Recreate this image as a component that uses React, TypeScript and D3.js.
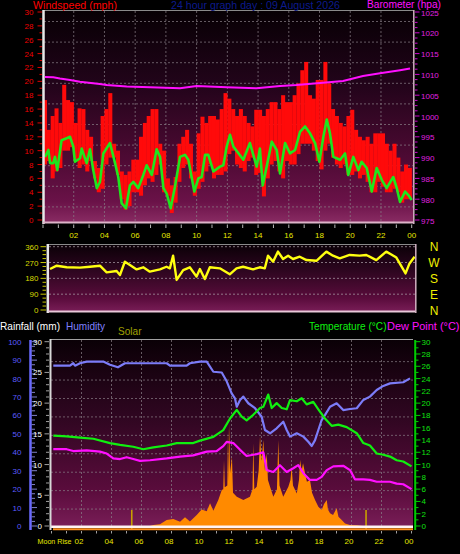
import React from 'react';
import * as d3 from 'd3';

// ---------------- data ----------------
const hourLabels = ['02', '04', '06', '08', '10', '12', '14', '16', '18', '20', '22', '00'];
const hourValues = [2, 4, 6, 8, 10, 12, 14, 16, 18, 20, 22, 24];
const windTicks = [0, 2, 4, 6, 8, 10, 12, 14, 16, 18, 20, 22, 24, 26, 28, 30];
const baroTicks = [975, 980, 985, 990, 995, 1000, 1005, 1010, 1015, 1020, 1025];
const dirTicks = [0, 90, 180, 270, 360];
const compassLabels = ['N', 'W', 'S', 'E', 'N'];
const compassDeg = [360, 270, 180, 90, 0];
const humTicks = [0, 10, 20, 30, 40, 50, 60, 70, 80, 90, 100];
const rainTicks = [0, 5, 10, 15, 20, 25, 30];
const tempTicks = [0, 2, 4, 6, 8, 10, 12, 14, 16, 18, 20, 22, 24, 26, 28, 30];

// wind speed range bars (mph), one per quarter hour from 00:00
const gustStep = 0.25;
const gustHigh = [
  17.3, 13, 15, 16.1, 14, 19.5, 17.3, 17, 14, 16.1, 16, 13, 12, 8.5, 7.5, 15,
  16, 18.3, 11, 10, 7, 6.5, 7, 8.7, 8.7, 12, 14, 15, 16, 16, 11, 10,
  6, 5, 6.2, 11, 12, 13, 11, 7, 12.5, 14.9, 14, 15, 15, 14.5, 16, 18.3,
  17.5, 16, 15, 16, 15, 14, 13.5, 15.9, 15.9, 15, 16, 17, 17, 16, 18, 17,
  17, 18, 19.7, 21.6, 22.8, 18, 17.5, 20.2, 20.2, 22.8, 19.7, 16, 15, 14, 13.5, 15,
  15.9, 13, 12, 11.5, 12, 11, 12.5, 12.5, 12.5, 11, 10, 11, 9, 7, 8, 7.5, 7,
];
const gustLow = [
  8, 8.5, 6, 7, 7.5, 10, 10, 10.5, 8.5, 7.5, 8, 7, 8.5, 6, 4, 4.5,
  8, 9, 9, 6.5, 3, 1.5, 2, 4, 4, 3.5, 5, 6, 5.5, 6.5, 8, 4,
  3.5, 1, 2.5, 5.5, 7.5, 8, 6, 3.5, 4.5, 5.5, 7, 8, 6, 6.5, 6.5, 7,
  9.5, 10, 8, 7.5, 7, 8.5, 9, 6.5, 6.8, 3.4, 6, 8, 8.5, 7, 6, 8.5,
  8, 8, 9.5, 11, 11, 11, 10, 8.5, 7.3, 10, 11, 9, 8, 7.5, 8, 6.5,
  6.5, 7, 6, 6.5, 5.5, 4, 4, 5.5, 4.8, 4, 4, 4.5, 4, 2.5, 3, 3, 2.7,
];

// average wind speed (mph)
const windAvgT = [0.13, 0.35, 0.46, 0.67, 0.78, 0.93, 1.21, 1.54, 1.76, 1.97, 2.08, 2.41, 2.52, 2.84, 3.06, 3.27, 3.5, 3.71, 3.93, 4.36, 4.69, 4.9, 5.12, 5.4, 5.66, 5.88, 6.2, 6.53, 6.75, 7.08, 7.4, 7.62, 7.84, 8.05, 8.31, 8.59, 8.92, 9.24, 9.46, 9.85, 10.11, 10.33, 10.55, 10.76, 11.09, 11.52, 11.74, 11.96, 12.17, 12.39, 13.04, 13.47, 13.91, 14.12, 14.3, 14.56, 14.89, 15.21, 15.43, 15.76, 16.08, 16.41, 16.73, 17.06, 17.38, 17.71, 17.99, 18.25, 18.47, 18.68, 18.9, 19.34, 19.66, 19.87, 20.2, 20.53, 20.74, 21.07, 21.4, 21.72, 22.05, 22.37, 22.8, 23.03, 23.24, 23.57, 23.78, 24.0];
const windAvgV = [9.1, 10.1, 8.2, 8.2, 9.1, 7.2, 11.5, 11.8, 12.0, 10.6, 8.4, 8.9, 10.3, 8.2, 10.2, 7.2, 4.6, 5.5, 9.6, 11.1, 8.2, 6.2, 2.4, 1.7, 5.0, 5.5, 4.6, 6.5, 7.9, 6.5, 10.2, 9.1, 4.6, 3.8, 1.7, 4.8, 9.1, 9.4, 8.7, 4.1, 6.0, 6.2, 9.4, 9.4, 7.0, 7.7, 7.9, 10.6, 12.3, 10.6, 8.7, 11.1, 7.7, 10.3, 5.0, 7.7, 11.3, 10.1, 6.7, 11.1, 9.6, 10.1, 12.7, 13.5, 12.5, 11.1, 8.4, 12.0, 14.5, 12.5, 9.1, 8.7, 9.6, 6.5, 9.1, 7.2, 8.4, 7.5, 4.1, 7.5, 5.8, 4.6, 6.2, 4.6, 2.6, 4.1, 3.6, 2.9];

// barometer (hPa)
const baroT = [0.13, 0.67, 1.1, 1.76, 2.4, 3.7, 4.15, 5.45, 6.97, 8.92, 10.0, 11.96, 13.9, 15.43, 16.5, 18.23, 19.53, 20.83, 21.94, 23.24, 23.89];
const baroV = [1009.4, 1009.3, 1009.0, 1008.65, 1008.25, 1007.7, 1007.45, 1007.1, 1006.9, 1006.7, 1007.2, 1006.9, 1006.65, 1007.2, 1007.45, 1008.0, 1008.4, 1009.6, 1010.25, 1011.0, 1011.4];

// wind direction (degrees)
const dirT = [0.13, 0.57, 1.22, 2.09, 2.74, 3.39, 3.83, 4.48, 4.70, 5.02, 5.35, 5.79, 6.22, 6.65, 7.31, 7.74, 7.96, 8.17, 8.40, 8.83, 9.26, 9.70, 9.92, 10.24, 10.57, 11.22, 11.87, 12.31, 12.74, 13.39, 13.83, 14.16, 14.37, 14.70, 15.02, 15.35, 15.68, 16.00, 16.44, 16.88, 17.53, 18.18, 18.61, 19.05, 19.70, 20.35, 20.79, 21.44, 22.09, 22.42, 22.75, 23.35, 23.61, 23.94];
const dirV = [233, 252, 243, 241, 246, 252, 214, 222, 199, 275, 256, 231, 243, 218, 231, 246, 237, 309, 171, 227, 243, 190, 233, 176, 243, 237, 203, 237, 246, 231, 243, 237, 309, 275, 332, 290, 309, 290, 303, 284, 280, 332, 309, 294, 313, 309, 313, 284, 332, 316, 298, 208, 265, 303];

// humidity (%)
const humT = [0.22, 1.33, 1.55, 1.67, 2.0, 2.45, 3.55, 4.0, 4.53, 5.0, 7.78, 8.0, 9.11, 9.33, 10.0, 10.45, 10.89, 11.45, 11.78, 12.11, 12.33, 12.45, 12.67, 12.89, 13.22, 13.67, 14.11, 14.33, 14.67, 15.11, 15.55, 15.78, 16.0, 16.45, 16.89, 17.22, 17.45, 17.67, 17.89, 18.11, 18.33, 18.67, 19.11, 19.55, 20.0, 20.45, 20.89, 21.33, 21.78, 22.22, 22.67, 23.55, 24.0];
const humV = [87, 87, 88.3, 87, 88.3, 89.2, 89.2, 87.5, 86.1, 88.3, 88.3, 87, 87, 88.3, 89.2, 89.2, 83.7, 83.3, 78.5, 72, 69.3, 64.7, 68.4, 70.2, 66.6, 63.9, 59.3, 52.1, 50.3, 53, 56.6, 52.1, 48.5, 50.3, 48.5, 45.7, 43.4, 46.6, 52.1, 57.5, 60.2, 64.7, 66.6, 62.9, 63.5, 63.9, 68.4, 70.2, 73.8, 76, 77.4, 78, 80.1];

// temperature (°C)
const tempT = [0.22, 1.11, 2.0, 2.89, 4.0, 4.67, 5.55, 6.22, 6.89, 7.78, 8.45, 9.55, 10.0, 10.89, 11.55, 12.0, 12.45, 12.78, 13.11, 13.55, 14.0, 14.22, 14.55, 14.78, 15.11, 15.45, 15.78, 16.0, 16.45, 16.78, 17.11, 17.55, 17.89, 18.33, 18.78, 19.22, 19.78, 20.45, 20.89, 21.33, 21.78, 22.22, 22.67, 23.11, 23.55, 24.1];
const tempV = [14.7, 14.6, 14.4, 14.2, 13.5, 13.2, 12.9, 12.5, 12.8, 13.1, 13.5, 13.5, 13.9, 14.5, 15.6, 17.5, 18.9, 17.8, 17.2, 18.1, 19.2, 19.4, 21.4, 19.2, 20, 19.2, 19.0, 20.5, 20.3, 20.8, 19.8, 20.2, 19.0, 17.5, 16.3, 16.5, 16.1, 15.1, 13.5, 13.1, 11.8, 11.6, 11.3, 10.7, 10.5, 9.7];

// dew point (°C)
const dewT = [0.22, 1.11, 1.55, 2.45, 3.33, 3.78, 4.22, 4.67, 5.11, 5.55, 6.0, 6.67, 7.78, 8.67, 9.55, 10.45, 11.11, 11.55, 11.78, 12.22, 12.67, 13.11, 13.78, 14.22, 14.45, 14.89, 15.33, 15.78, 16.22, 16.55, 16.89, 17.33, 17.78, 18.11, 18.45, 18.89, 19.55, 20.0, 20.33, 20.89, 21.33, 21.78, 22.67, 23.11, 23.55, 24.1];
const dewV = [12.5, 12.5, 12.2, 12.3, 12.1, 11.8, 11.0, 10.9, 11.2, 10.9, 10.6, 10.7, 11.0, 11.3, 11.5, 12.1, 12.2, 13.0, 13.7, 13.5, 12.4, 11.4, 11.7, 12.0, 9.1, 8.8, 9.9, 8.8, 9.4, 9.9, 8.6, 7.5, 7.5, 8.0, 9.1, 9.7, 9.8, 9.1, 7.6, 7.6, 7.5, 7.2, 7.2, 6.9, 6.8, 6.0];

// solar (plotted on the 0-100 scale)
const solarT = [6.67, 6.89, 7.33, 7.78, 8.22, 8.67, 9.0, 9.33, 9.78, 10.11, 10.45, 10.67, 10.89, 11.22, 11.45, 11.55, 11.6, 11.65, 11.82, 11.87, 11.91, 11.95, 12.0, 12.13, 12.2, 12.45, 12.89, 13.33, 13.5, 13.55, 13.62, 13.78, 13.91, 14.0, 14.11, 14.22, 14.33, 14.45, 14.53, 14.67, 14.89, 15.13, 15.22, 15.3, 15.55, 15.89, 16.03, 16.11, 16.2, 16.45, 16.6, 16.67, 16.78, 16.87, 17.0, 17.13, 17.33, 17.47, 17.67, 17.89, 18.11, 18.27, 18.45, 18.53, 18.67, 18.87, 19.11, 19.23, 19.45, 19.67, 20.0, 20.45, 20.87];
const solarV = [0, 0.5, 1, 3.3, 3.8, 2.3, 4.7, 2.5, 6.0, 9.0, 8, 12.3, 8.3, 14.1, 19.5, 20, 35.8, 21, 22, 53.9, 24, 55.7, 28.6, 37.6, 18, 15.9, 14.1, 15.9, 20, 44.9, 20, 21.3, 30, 48.5, 35, 46.6, 30, 39.4, 25, 21.3, 15.9, 20, 46.6, 22, 15.9, 21.3, 25, 32.2, 22, 17.7, 25, 35.8, 30, 34, 28.6, 24, 25, 18, 14.1, 10.5, 8.7, 12, 14.1, 9, 6.9, 6, 9.6, 5, 3.3, 1.4, 0.5, 0.4, 0];

// thin markers (hours)
const markerHours = [5.45, 21.07];

// ---------------- drawing ----------------
const F = "'Liberation Sans', Arial, Helvetica, sans-serif";

export default function App() {
  const x1 = d3.scaleLinear().domain([0, 24]).range([43, 411.7]);
  const yWind = d3.scaleLinear().domain([0, 30]).range([220, 12]);
  const yBaro = d3.scaleLinear().domain([975, 1025]).range([220, 12]);
  const x2 = d3.scaleLinear().domain([0, 24]).range([48, 415.5]);
  const yDir = d3.scaleLinear().domain([0, 360]).range([310, 246.7]);
  const x3 = d3.scaleLinear().domain([0, 24]).range([50, 410]);
  const yPct = d3.scaleLinear().domain([0, 100]).range([526, 341.7]);
  const yRain = d3.scaleLinear().domain([0, 30]).range([526, 341.7]);
  const yTemp = d3.scaleLinear().domain([0, 30]).range([526, 341.7]);

  const zip = (a: number[], b: number[]) => a.map((t, i) => [t, b[i]] as [number, number]);

  const windLine = d3.line<[number, number]>().x(d => x1(d[0])).y(d => yWind(d[1]))(zip(windAvgT, windAvgV)) || '';
  const baroLine = d3.line<[number, number]>().x(d => x1(d[0])).y(d => yBaro(d[1]))(zip(baroT, baroV)) || '';
  const dirLine = d3.line<[number, number]>().x(d => x2(d[0])).y(d => yDir(d[1]))(zip(dirT, dirV)) || '';
  const humLine = d3.line<[number, number]>().x(d => x3(d[0])).y(d => yPct(d[1]))(zip(humT, humV)) || '';
  const tempLine = d3.line<[number, number]>().x(d => x3(d[0])).y(d => yTemp(d[1]))(zip(tempT, tempV)) || '';
  const dewLine = d3.line<[number, number]>().x(d => x3(d[0])).y(d => yTemp(d[1]))(zip(dewT, dewV)) || '';
  const solarArea = d3.area<[number, number]>().x(d => x3(d[0])).y0(yPct(0)).y1(d => yPct(d[1]))(zip(solarT, solarV)) || '';

  const barW = x1(gustStep) - x1(0);
  const hourly = d3.range(0, 25);
  const grid1H = d3.range(10).map(k => 21.5 + 20.6 * k);

  return (
    <svg width={460} height={554} style={{ position: 'absolute', left: 0, top: 0, display: 'block' }}>
      <defs>
        <linearGradient id="bgA" x1="0" y1="0" x2="0" y2="1">
          <stop offset="0" stopColor="#070004" />
          <stop offset="0.35" stopColor="#22041a" />
          <stop offset="0.7" stopColor="#4e0a34" />
          <stop offset="0.9" stopColor="#6a1248" />
          <stop offset="1" stopColor="#8a2c64" />
        </linearGradient>
        <linearGradient id="bgB" x1="0" y1="0" x2="0" y2="1">
          <stop offset="0" stopColor="#0a0006" />
          <stop offset="0.4" stopColor="#2e0620" />
          <stop offset="0.8" stopColor="#5a0c3c" />
          <stop offset="1" stopColor="#7a1e58" />
        </linearGradient>
        <clipPath id="c1"><rect x={44} y={11} width={369} height={211} /></clipPath>
        <clipPath id="c2"><rect x={49} y={245} width={366} height={66} /></clipPath>
        <clipPath id="c3"><rect x={51} y={340} width={362} height={190} /></clipPath>
      </defs>
      <rect x={0} y={0} width={460} height={554} fill="#000" />

      {/* ============ PANEL 1: wind + barometer ============ */}
      <rect x={43} y={10} width={371} height={213} fill="url(#bgA)" />
      {grid1H.map((y, i) => (
        <line key={'g1h' + i} x1={44} x2={413} y1={y} y2={y} stroke="#8a8088" strokeDasharray="2 2" opacity={0.7} />
      ))}
      {hourValues.slice(0, 11).map(h => (
        <line key={'g1v' + h} x1={x1(h)} x2={x1(h)} y1={11} y2={222} stroke="#8a8088" strokeDasharray="2 2" opacity={0.7} />
      ))}
      <g clipPath="url(#c1)">
        {gustHigh.slice(0, 96).map((v, i) => (
          <rect key={'gb' + i} x={x1(i * gustStep)} width={barW + 0.2} y={yWind(v)} height={yWind(gustLow[i]) - yWind(v)} fill="#ff0a0a" />
        ))}
        <path d={windLine} fill="none" stroke="#1ee61e" strokeWidth={2.6} strokeLinejoin="round" />
        <path d={baroLine} fill="none" stroke="#ff10ff" strokeWidth={2} />
      </g>
      <line x1={43} x2={414} y1={10.5} y2={10.5} stroke="#8a8a8a" />
      <line x1={43.5} x2={43.5} y1={10} y2={224} stroke="#e8e8e8" strokeWidth={2.5} />
      <line x1={43} x2={414} y1={222.5} y2={222.5} stroke="#dcb4c8" strokeWidth={2} />
      <line x1={413.8} x2={413.8} y1={10} y2={224} stroke="#d0b0c0" strokeWidth={1.5} />

      {/* left wind axis */}
      {d3.range(0, 31).map(v => (
        <line key={'wt' + v} x1={v % 2 === 0 ? 37.5 : 39.5} x2={42} y1={yWind(v)} y2={yWind(v)} stroke="#e00000" />
      ))}
      {windTicks.map(v => (
        <text key={'wl' + v} x={33.5} y={yWind(v) + 3} fill="#ee0000" fontSize={8} fontFamily={F} textAnchor="end">{v}</text>
      ))}
      {/* right barometer axis */}
      {d3.range(975, 1025.1, 1.25).map(v => (
        <line key={'bt' + v} x1={415} x2={v % 5 === 0 ? 419.5 : 417.5} y1={yBaro(v)} y2={yBaro(v)} stroke="#d000d0" />
      ))}
      {baroTicks.map(v => (
        <text key={'bl' + v} x={421} y={yBaro(v) + (v === 1025 ? 4.2 : 3.5)} fill="#e020e0" fontSize={8} fontFamily={F}>{v}</text>
      ))}
      {/* x axis panel 1 */}
      {hourly.map(h => (
        <line key={'xt1' + h} x1={x1(h)} x2={x1(h)} y1={224.5} y2={228} stroke="#b8b8b8" />
      ))}
      {hourValues.map((h, i) => (
        <text key={'xl1' + h} x={x1(h)} y={238} fill="#e8e800" fontSize={8} fontFamily={F} textAnchor="middle">{hourLabels[i]}</text>
      ))}
      {/* titles */}
      <text x={33} y={9} fill="#ff0000" fontSize={11} fontFamily={F} textLength={84} lengthAdjust="spacingAndGlyphs">Windspeed (mph)</text>
      <text x={171} y={9} fill="#0c1a8c" fontSize={11} fontFamily={F} textLength={169} lengthAdjust="spacingAndGlyphs">24 hour graph day : 09 August 2026</text>
      <text x={367} y={7.8} fill="#ff10ff" fontSize={10} fontFamily={F} textLength={74} lengthAdjust="spacingAndGlyphs">Barometer (hpa)</text>

      {/* ============ PANEL 2: wind direction ============ */}
      <rect x={48} y={244} width={368} height={68} fill="url(#bgB)" />
      {dirTicks.slice(1).map(v => (
        <line key={'g2h' + v} x1={49} x2={415} y1={yDir(v)} y2={yDir(v)} stroke="#a89aa4" strokeDasharray="2 2" opacity={0.75} />
      ))}
      <g clipPath="url(#c2)">
        <path d={dirLine} fill="none" stroke="#ffff10" strokeWidth={2.4} strokeLinejoin="round" />
      </g>
      <line x1={48} x2={416} y1={244.5} y2={244.5} stroke="#8a8a8a" />
      <line x1={47.8} x2={47.8} y1={244} y2={313} stroke="#e8e8e8" strokeWidth={2.5} />
      <line x1={48} x2={416} y1={311.5} y2={311.5} stroke="#e8c8d8" strokeWidth={2} />
      <line x1={415.8} x2={415.8} y1={244} y2={313} stroke="#d0b0c0" strokeWidth={1.5} />
      {d3.range(0, 361, 22.5).map(v => (
        <line key={'dt' + v} x1={v % 90 === 0 ? 40.5 : 42.5} x2={46} y1={yDir(v)} y2={yDir(v)} stroke="#c8c800" />
      ))}
      {dirTicks.map(v => (
        <text key={'dl' + v} x={38.5} y={yDir(v) + 3} fill="#d8d800" fontSize={8} fontFamily={F} textAnchor="end">{v}</text>
      ))}
      {compassLabels.map((c, i) => (
        <text key={'cp' + i} x={434} y={yDir(compassDeg[i]) + 4.5} fill="#f0f000" fontSize={12} fontFamily={F} textAnchor="middle">{c}</text>
      ))}

      {/* ============ PANEL 3: temp/hum/solar ============ */}
      <rect x={50} y={339} width={363} height={189} fill="url(#bgB)" />
      {humTicks.slice(1, 10).map(v => (
        <line key={'g3h' + v} x1={51} x2={413} y1={yPct(v) + 1.5} y2={yPct(v) + 1.5} stroke="#8a8088" strokeDasharray="2 2" opacity={0.7} />
      ))}
      {hourValues.slice(0, 11).map(h => (
        <line key={'g3v' + h} x1={x3(h) + 1.5} x2={x3(h) + 1.5} y1={340} y2={526} stroke="#8a8088" strokeDasharray="2 2" opacity={0.7} />
      ))}
      <g clipPath="url(#c3)">
        <path d={solarArea} fill="#ff8a00" />
        {markerHours.map(h => (
          <line key={'mk' + h} x1={x3(h)} x2={x3(h)} y1={510} y2={530} stroke="#c8a000" strokeWidth={1.6} />
        ))}
        <path d={humLine} fill="none" stroke="#7c7cf8" strokeWidth={2.2} strokeLinejoin="round" />
        <path d={tempLine} fill="none" stroke="#10f010" strokeWidth={2.2} strokeLinejoin="round" />
        <path d={dewLine} fill="none" stroke="#ff10ff" strokeWidth={2.2} strokeLinejoin="round" />
      </g>
      <line x1={51} x2={413} y1={526.8} y2={526.8} stroke="#fff4f4" strokeWidth={2.4} />
      <line x1={53} x2={413} y1={529.2} y2={529.2} stroke="#ff9020" strokeWidth={2} />
      <line x1={50} x2={413} y1={339.5} y2={339.5} stroke="#a0a0a0" />
      <line x1={50.5} x2={50.5} y1={339} y2={530} stroke="#d8d8d8" strokeWidth={2} />

      {/* left humidity axis */}
      <line x1={30.5} x2={30.5} y1={340} y2={530} stroke="#6a6aff" strokeWidth={2.5} />
      {d3.range(0, 101, 2.5).map(v => (
        <line key={'ht' + v} x1={31.5} x2={v % 10 === 0 ? 37 : 35} y1={yPct(v)} y2={yPct(v)} stroke="#8080c8" />
      ))}
      {humTicks.map(v => (
        <text key={'hl' + v} x={21.5} y={yPct(v) + 3} fill="#5c5cff" fontSize={8} fontFamily={F} textAnchor="end">{v}</text>
      ))}
      {/* rainfall axis */}
      {d3.range(0, 31, 1).map(v => (
        <line key={'rt' + v} x1={v % 5 === 0 ? 44.5 : 46} x2={49} y1={yRain(v)} y2={yRain(v)} stroke="#a0a0a0" />
      ))}
      {rainTicks.map(v => (
        <text key={'rl' + v} x={42} y={yRain(v) + 3} fill="#ffffff" fontSize={8} fontFamily={F} textAnchor="end">{v}</text>
      ))}
      {/* right temperature axis */}
      <line x1={415.2} x2={415.2} y1={340} y2={530} stroke="#00cc00" strokeWidth={2} />
      {d3.range(0, 31, 1).map(v => (
        <line key={'tt' + v} x1={416} x2={v % 2 === 0 ? 420.5 : 418.5} y1={yTemp(v)} y2={yTemp(v)} stroke="#00cc00" />
      ))}
      {tempTicks.map(v => (
        <text key={'tl' + v} x={421.5} y={yTemp(v) + 3} fill="#10e010" fontSize={8} fontFamily={F}>{v}</text>
      ))}
      {/* x axis panel 3 */}
      {hourly.map(h => (
        <line key={'xt3' + h} x1={x3(h) + 1.5} x2={x3(h) + 1.5} y1={531} y2={533.5} stroke="#a0a0a0" />
      ))}
      {hourValues.map((h, i) => (
        <text key={'xl3' + h} x={x3(h) - 1} y={544} fill="#e8e800" fontSize={8} fontFamily={F} textAnchor="middle">{hourLabels[i]}</text>
      ))}
      <text x={37.5} y={544} fill="#e8e800" fontSize={8} fontFamily={F} textLength={34} lengthAdjust="spacingAndGlyphs">Moon Rise</text>
      {/* titles */}
      <text x={0} y={329.5} fill="#ffffff" fontSize={11} fontFamily={F} textLength={60} lengthAdjust="spacingAndGlyphs">Rainfall (mm)</text>
      <text x={66} y={329.5} fill="#8080ff" fontSize={11} fontFamily={F} textLength={39} lengthAdjust="spacingAndGlyphs">Humidity</text>
      <text x={118} y={335} fill="#a0a000" fontSize={11} fontFamily={F} textLength={23.5} lengthAdjust="spacingAndGlyphs">Solar</text>
      <text x={309} y={330} fill="#10f010" fontSize={11} fontFamily={F} textLength={77.5} lengthAdjust="spacingAndGlyphs">Temperature (°C)</text>
      <text x={387} y={330} fill="#ff10ff" fontSize={11} fontFamily={F} textLength={72.5} lengthAdjust="spacingAndGlyphs">Dew Point (°C)</text>
    </svg>
  );
}
